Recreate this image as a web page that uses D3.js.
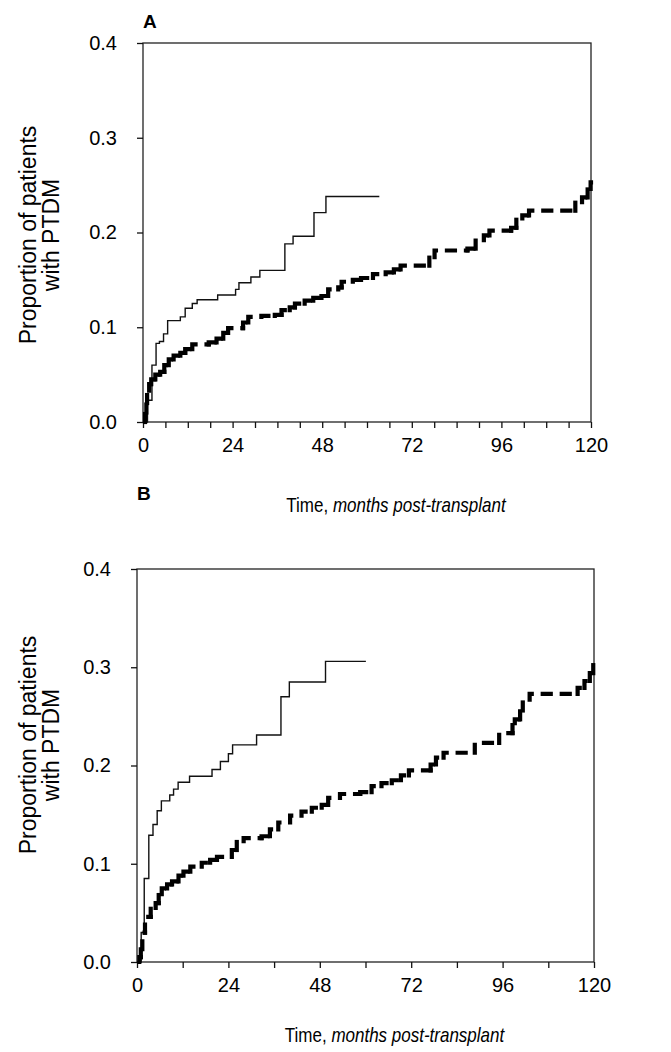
<!DOCTYPE html>
<html>
<head>
<meta charset="utf-8">
<script src="https://cdn.jsdelivr.net/npm/d3@7"></script>
<style>
  body { margin:0; background:#fff; }
  svg { display:block; font-family:"Liberation Sans", Arial, sans-serif; }
  .tick text { font-size:20px; fill:#000; }
  .axis path, .axis line { stroke:#111; stroke-width:1.3; }
  .title { font-size:20px; }
  .label { font-size:23px; }
  .letter { font-size:19px; font-weight:bold; }
</style>
</head>
<body>
<svg></svg>
<script>
// time in months, cumulative proportion with PTDM
// panel A
var thinA = [[0,0],[1.2,0.023],[2.4,0.060],[3.5,0.083],[4.4,0.085],[5.5,0.093],[6.6,0.107],
  [10.0,0.111],[11.3,0.120],[13.2,0.125],[14.5,0.129],[20.0,0.134],[24.8,0.140],[25.7,0.147],
  [28.9,0.153],[31.3,0.160],[38.0,0.188],[40.2,0.196],[45.8,0.221],[49.0,0.238],[63.3,0.238]];
var thickA = [[0,0],[0.55,0.010],[0.9,0.020],[1.1,0.033],[1.65,0.040],[2.2,0.045],[3.3,0.050],
  [4.6,0.053],[5.7,0.060],[6.9,0.066],[8.2,0.070],[10.0,0.073],[11.3,0.077],[13.2,0.082],
  [17.6,0.084],[19.7,0.088],[21.5,0.094],[22.8,0.099],[26.8,0.105],[28.2,0.111],[31.7,0.112],
  [35.3,0.113],[37.1,0.118],[39.3,0.121],[40.7,0.125],[43.3,0.128],[45.6,0.131],[47.8,0.133],
  [49.6,0.140],[52.3,0.142],[53.2,0.148],[56.2,0.150],[58.4,0.152],[61.6,0.156],[65.0,0.158],
  [67.2,0.161],[69.0,0.165],[76.7,0.174],[78.1,0.181],[86.9,0.183],[89.1,0.192],[91.3,0.197],
  [92.8,0.202],[98.6,0.205],[100.0,0.215],[101.6,0.218],[103.4,0.223],[115.8,0.232],[117.6,0.237],
  [119.1,0.246],[119.9,0.253],[120,0.253]];
// panel B
var thinB = [[0,0],[1.1,0.030],[1.9,0.085],[3.1,0.129],[4.2,0.140],[5.3,0.154],[6.4,0.164],
  [8.6,0.170],[9.6,0.176],[10.8,0.183],[13.8,0.189],[19.7,0.196],[21.9,0.204],[24.0,0.212],
  [25.1,0.221],[31.4,0.231],[37.8,0.270],[40.0,0.285],[49.5,0.306],[60.1,0.306]];
var thickB = [[0,0],[0.6,0.005],[1.0,0.013],[1.4,0.030],[2.1,0.046],[3.6,0.055],[4.9,0.060],
  [5.7,0.069],[6.5,0.075],[7.9,0.079],[9.2,0.082],[10.9,0.088],[12.2,0.092],[14.0,0.097],
  [17.0,0.101],[19.2,0.104],[21.0,0.107],[24.9,0.114],[26.2,0.123],[28.0,0.126],[32.7,0.128],
  [34.9,0.135],[37.1,0.142],[40.2,0.149],[43.2,0.153],[45.9,0.157],[48.5,0.160],[50.2,0.167],
  [53.3,0.171],[58.6,0.173],[61.6,0.179],[64.2,0.182],[66.9,0.185],[69.3,0.190],[71.4,0.195],
  [77.1,0.201],[78.5,0.208],[80.5,0.213],[88.7,0.223],[95.1,0.233],[98.6,0.243],[99.2,0.247],
  [100.6,0.256],[101.3,0.267],[103.1,0.273],[115.7,0.279],[117.5,0.286],[118.9,0.294],[119.8,0.306],
  [120,0.306]];

var yTicks = [0,0.1,0.2,0.3,0.4];
var xLabels = [0,24,48,72,96,120];
var yTitle = ["Proportion of patients","with PTDM"];

var panels = [
  {letter:"A", thin:thinA, thick:thickA, minor:6,
   left:143, right:591, top:43, bottom:422,
   letterY:28, titleY:512, labelY:235},
  {letter:"B", thin:thinB, thick:thickB, minor:12,
   left:137, right:594, top:569, bottom:962,
   letterY:500, titleY:1042, labelY:745}
];

var svg = d3.select("svg")
  .attr("width",671)
  .attr("height",1052);

var drawPanel = function(panel)
{
  var xScale = d3.scaleLinear()
    .domain([0,120])
    .range([panel.left,panel.right]);
  var yScale = d3.scaleLinear()
    .domain([0,0.4])
    .range([panel.bottom,panel.top]);

  var g = svg.append("g");

  // frame
  g.append("rect")
    .attr("x",panel.left)
    .attr("y",panel.top)
    .attr("width",panel.right-panel.left)
    .attr("height",panel.bottom-panel.top)
    .attr("fill","none")
    .attr("stroke","#222")
    .attr("stroke-width",1.3);

  var xAxis = d3.axisBottom(xScale)
    .tickValues(d3.range(0,121,panel.minor))
    .tickSize(6)
    .tickPadding(10)
    .tickFormat(function(d){ return xLabels.indexOf(d)>=0 ? d : ""; });
  g.append("g")
    .classed("axis",true)
    .attr("transform","translate(0,"+panel.bottom+")")
    .call(xAxis)
    .call(function(a){ a.select(".domain").remove(); });

  var yAxis = d3.axisLeft(yScale)
    .tickValues(yTicks)
    .tickSize(6)
    .tickPadding(20)
    .tickFormat(d3.format(".1f"));
  g.append("g")
    .classed("axis",true)
    .attr("transform","translate("+panel.left+",0)")
    .call(yAxis)
    .call(function(a){ a.select(".domain").remove(); });

  // thin curve, solid steps
  var line = d3.line()
    .x(function(d){ return xScale(d[0]); })
    .y(function(d){ return yScale(d[1]); })
    .curve(d3.curveStepAfter);
  g.append("path")
    .datum(panel.thin)
    .attr("d",line)
    .attr("fill","none")
    .attr("stroke","#111")
    .attr("stroke-width",1.4);

  // thick curve, each step dashed on its own
  var steps = [];
  for(var i=1;i<panel.thick.length-1;i++)
  {
    steps.push({t0:panel.thick[i][0], t1:panel.thick[i+1][0],
                p0:panel.thick[i-1][1], p1:panel.thick[i][1]});
  }
  g.selectAll(".step")
    .data(steps)
    .enter()
    .append("path")
    .classed("step",true)
    .attr("d",function(s)
    {
      return "M"+xScale(s.t0)+","+yScale(s.p0)+
             "V"+yScale(s.p1)+"H"+xScale(s.t1);
    })
    .attr("fill","none")
    .attr("stroke","#000")
    .attr("stroke-width",4.2)
    .attr("stroke-linecap","square")
    .attr("stroke-dasharray","8,11");

  // labels
  g.append("text")
    .classed("letter",true)
    .attr("x",panel.left)
    .attr("y",panel.letterY)
    .text(panel.letter);

  // axis title, a bit narrow like the original lettering
  var title = g.append("text")
    .classed("title",true)
    .attr("text-anchor","middle")
    .attr("transform","translate("+((panel.left+panel.right)/2+29)+","+
          panel.titleY+") scale(0.85,1)");
  title.append("tspan").text("Time, ");
  title.append("tspan").attr("font-style","italic").text("months post-transplant");

  var ylab = g.append("text")
    .classed("label",true)
    .attr("text-anchor","middle")
    .attr("transform","translate(36,"+panel.labelY+") rotate(-90)");
  ylab.selectAll("tspan")
    .data(yTitle)
    .enter()
    .append("tspan")
    .attr("x",0)
    .attr("dy",function(d,i){ return i==0 ? 0 : "0.98em"; })
    .text(function(d){ return d; });
}

panels.forEach(drawPanel);
</script>
</body>
</html>
